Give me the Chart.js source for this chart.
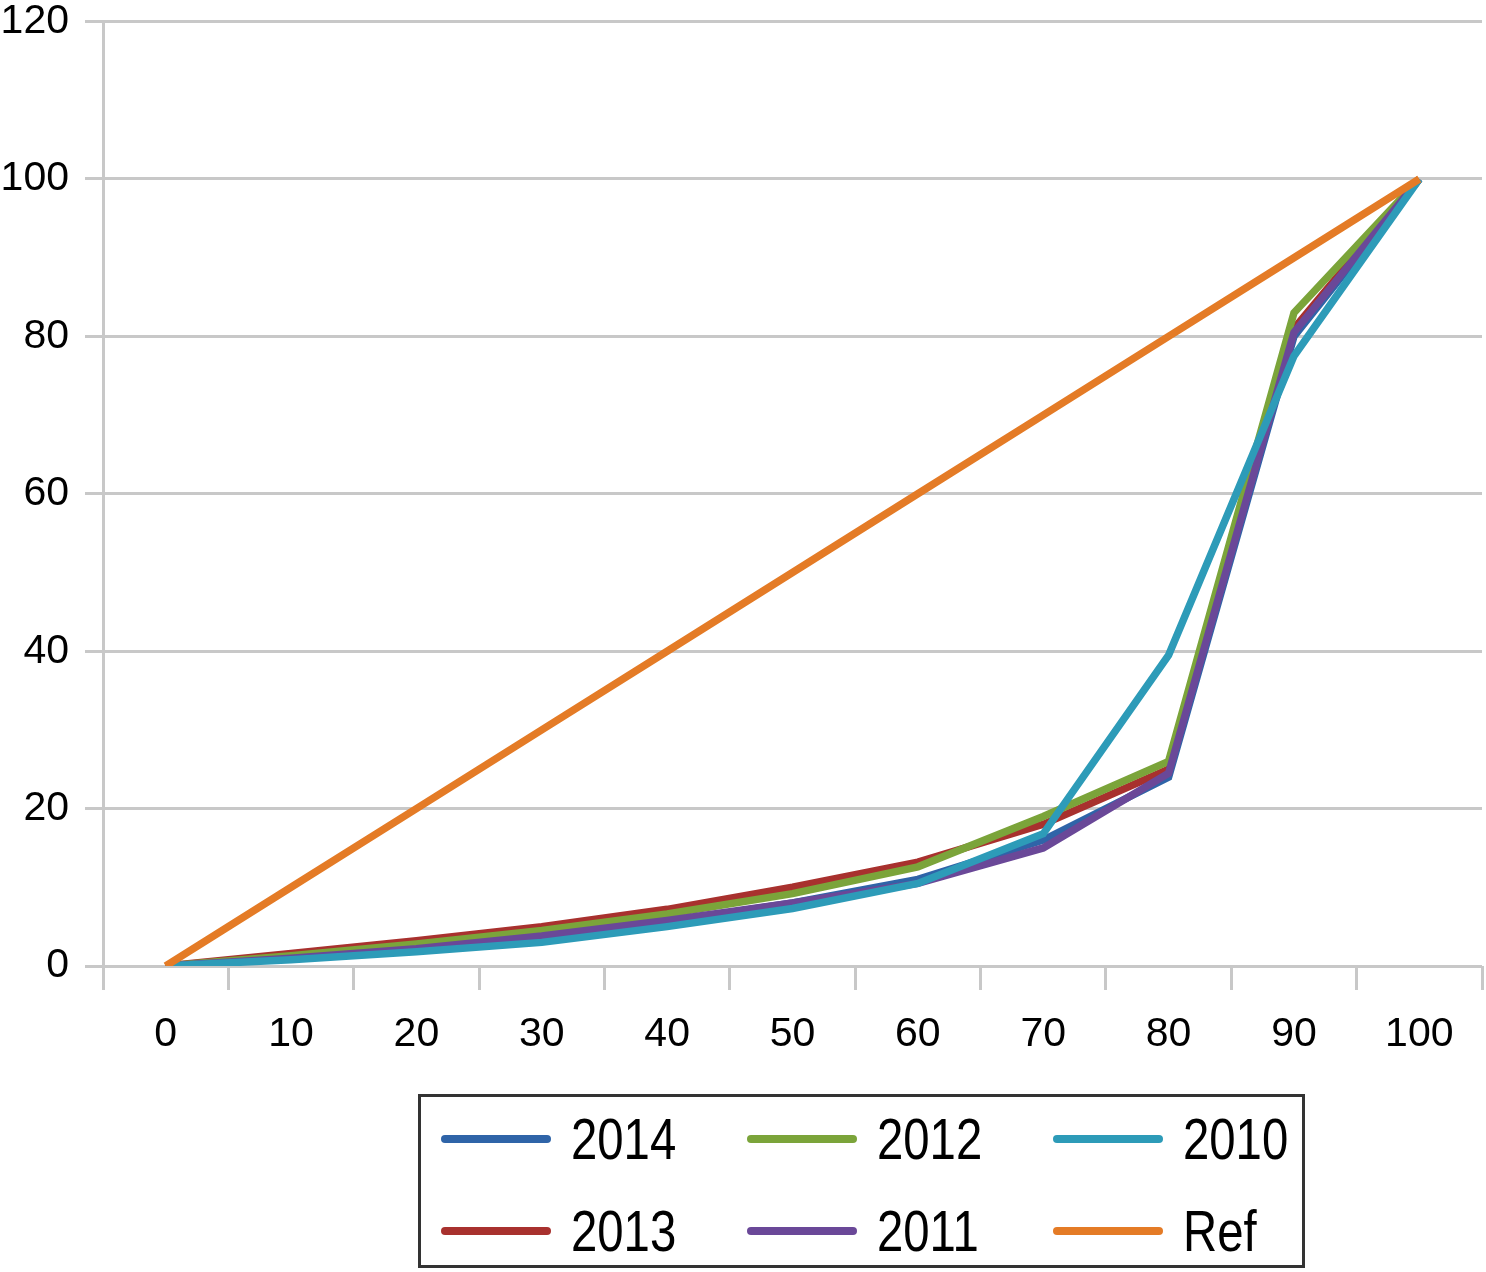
<!DOCTYPE html>
<html>
<head>
<meta charset="utf-8">
<script src="https://cdn.jsdelivr.net/npm/chart.js@4/dist/chart.umd.min.js"></script>
<style>
  html, body { margin: 0; padding: 0; background: #fff; overflow: hidden; }
  #wrap { position: relative; width: 1486px; height: 1272px; overflow: hidden; }
  #chartBox { position: absolute; left: 0; top: -19px; width: 1486px; height: 1099px; }
  #legend {
    position: absolute; left: 418px; top: 1094px; width: 881px; height: 168px;
    border: 3px solid #333; box-sizing: content-box;
    font-family: "Liberation Sans", Arial, sans-serif;
    font-size: 57px; color: #000;
  }
  .item { position: absolute; display: flex; align-items: center; }
  .item .sw { width: 110px; height: 8px; border-radius: 4px; margin-right: 20px; }
  .item .tx { display: inline-block; transform: scaleX(0.83); transform-origin: left center; }
</style>
</head>
<body>
<div id="wrap">
  <div id="chartBox"><canvas id="lorenzChart"></canvas></div>
  <div id="legend"></div>
</div>
<script>
var categories = ['0', '10', '20', '30', '40', '50', '60', '70', '80', '90', '100'];
var yTicks = [0, 20, 40, 60, 80, 100, 120];

var s2014 = [0, 1.0, 2.0, 3.6, 5.6, 8.0, 11.0, 16.0, 24.0, 80.0, 100];
var s2013 = [0, 1.6, 3.2, 5.0, 7.2, 10.0, 13.2, 18.0, 25.0, 81.0, 100];
var s2012 = [0, 1.3, 2.8, 4.5, 6.6, 9.2, 12.6, 19.0, 26.0, 83.0, 100];
var s2011 = [0, 1.0, 2.2, 3.8, 5.8, 8.0, 10.5, 15.0, 24.5, 80.5, 100];
var s2010 = [0, 0.8, 1.8, 3.0, 5.0, 7.3, 10.5, 16.8, 39.5, 77.5, 100];
var sRef = [0, 10, 20, 30, 40, 50, 60, 70, 80, 90, 100];

// order: Excel draws series in order, last on top
var series = [
  { label: '2014', data: s2014, color: '#2f64a8', order: 6 },
  { label: '2013', data: s2013, color: '#a8312e', order: 5 },
  { label: '2012', data: s2012, color: '#7ba43a', order: 4 },
  { label: '2011', data: s2011, color: '#6a4898', order: 3 },
  { label: '2010', data: s2010, color: '#2d9bb8', order: 2 },
  { label: 'Ref', data: sRef, color: '#e47b26', order: 1 }
];

var ctx = document.getElementById('lorenzChart').getContext('2d');
var myChart = new Chart(ctx, {
  type: 'line',
  data: {
    labels: categories,
    datasets: series.map(function (s) {
      return {
        label: s.label,
        data: s.data,
        borderColor: s.color,
        backgroundColor: s.color,
        borderWidth: 7.5,
        pointRadius: 0,
        tension: 0,
        order: s.order
      };
    })
  },
  options: {
    responsive: true,
    maintainAspectRatio: false,
    animation: false,
    layout: {
      padding: { top: 2, right: 4, bottom: 24, left: 0 }
    },
    plugins: {
      legend: { display: false },
      tooltip: { enabled: false }
    },
    scales: {
      x: {
        type: 'category',
        offset: true,
        grid: {
          offset: true,
          drawOnChartArea: false,
          drawTicks: true,
          tickLength: 24,
          color: '#c8c8c8',
          lineWidth: 3
        },
        border: { display: false },
        ticks: {
          color: '#000',
          padding: 20,
          maxRotation: 0,
          font: { family: 'Liberation Sans, Arial, sans-serif', size: 41 }
        },
        afterFit: function (scale) { scale.height = 90; }
      },
      y: {
        min: 0,
        max: 120,
        afterBuildTicks: function (scale) {
          scale.ticks = yTicks.map(function (v) { return { value: v }; });
        },
        grid: {
          color: '#c8c8c8',
          lineWidth: 3,
          tickLength: 18
        },
        border: { display: true, color: '#c8c8c8', width: 3 },
        ticks: {
          color: '#000',
          padding: 16,
          font: { family: 'Liberation Sans, Arial, sans-serif', size: 41 }
        },
        afterFit: function (scale) { scale.width = 103; }
      }
    }
  }
});

// legend laid out like the original: column-major, 3 columns x 2 rows
var legendOrder = ['2014', '2013', '2012', '2011', '2010', 'Ref'];
var legendEl = document.getElementById('legend');
legendOrder.forEach(function (name, i) {
  var s = series.filter(function (d) { return d.label === name; })[0];
  var col = Math.floor(i / 2), row = i % 2;
  var it = document.createElement('div');
  it.className = 'item';
  it.style.left = (20 + col * 306) + 'px';
  it.style.top = (12 + row * 92) + 'px';
  it.style.height = '60px';
  var sw = document.createElement('span');
  sw.className = 'sw';
  sw.style.background = s.color;
  var tx = document.createElement('span');
  tx.className = 'tx';
  tx.textContent = s.label;
  it.appendChild(sw);
  it.appendChild(tx);
  legendEl.appendChild(it);
});
</script>
</body>
</html>
